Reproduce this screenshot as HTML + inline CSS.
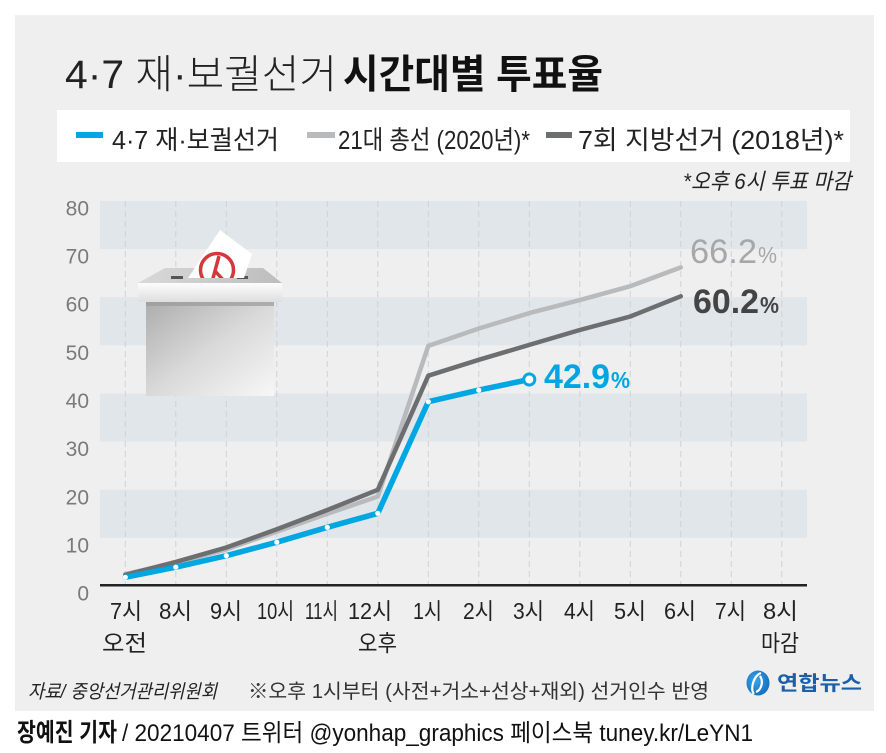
<!DOCTYPE html>
<html><head><meta charset="utf-8"><style>
html,body{margin:0;padding:0;background:#fff;}
svg{display:block;}
text{font-family:"Liberation Sans","Noto Sans CJK KR",sans-serif;}
</style></head><body>
<svg width="886" height="753" viewBox="0 0 886 753" xmlns="http://www.w3.org/2000/svg">
<defs>
<linearGradient id="body" x1="0" y1="0" x2="1" y2="1">
<stop offset="0" stop-color="#adadad"/><stop offset="0.5" stop-color="#d9d9d9"/><stop offset="1" stop-color="#f7f7f7"/>
</linearGradient>
<linearGradient id="lidtop" x1="0" y1="0" x2="1" y2="0">
<stop offset="0" stop-color="#d9d9d9"/><stop offset="1" stop-color="#bdbdbd"/>
</linearGradient>
<linearGradient id="lidfront" x1="0" y1="0" x2="0" y2="1">
<stop offset="0" stop-color="#fdfdfd"/><stop offset="1" stop-color="#dedede"/>
</linearGradient>
<radialGradient id="logo" cx="0.4" cy="0.4" r="0.7">
<stop offset="0" stop-color="#3aa6e8"/><stop offset="1" stop-color="#1268b8"/>
</radialGradient>
<clipPath id="paperclip"><rect x="150" y="200" width="130" height="78"/></clipPath>
</defs>
<rect x="0" y="0" width="886" height="753" fill="#fff"/>
<rect x="15" y="15" width="859" height="696" fill="#efefef"/>

<!-- title -->
<text x="65" y="88" font-size="40" font-weight="300" fill="#222" textLength="272" lengthAdjust="spacingAndGlyphs">4·7 재·보궐선거</text>
<text x="343" y="88" font-size="40" font-weight="700" fill="#111" textLength="260" lengthAdjust="spacingAndGlyphs">시간대별 투표율</text>

<!-- legend -->
<rect x="57" y="110" width="793" height="52" fill="#fff"/>
<rect x="76" y="132" width="27" height="6" fill="#00a7e2"/>
<text x="112" y="149" font-size="26" fill="#222" textLength="167" lengthAdjust="spacingAndGlyphs">4·7 재·보궐선거</text>
<rect x="307" y="132" width="28" height="6" fill="#b9babc"/>
<text x="338" y="149" font-size="26" fill="#222" textLength="192" lengthAdjust="spacingAndGlyphs">21대 총선 (2020년)*</text>
<rect x="546" y="132" width="26" height="6" fill="#6d6e70"/>
<text x="578" y="149" font-size="26" fill="#222" textLength="266" lengthAdjust="spacingAndGlyphs">7회 지방선거 (2018년)*</text>
<text x="683" y="189" font-size="22" font-style="italic" fill="#222" textLength="168" lengthAdjust="spacingAndGlyphs">*오후 6시 투표 마감</text>

<!-- bands -->
<rect x="100" y="201" width="707" height="48.1" fill="#e1e6ea"/>
<rect x="100" y="297.25" width="707" height="48.1" fill="#e1e6ea"/>
<rect x="100" y="393.5" width="707" height="48.1" fill="#e1e6ea"/>
<rect x="100" y="489.75" width="707" height="48.1" fill="#e1e6ea"/>

<!-- vertical dashed grid -->
<g stroke="#cfd3d7" stroke-width="1" stroke-dasharray="6 4">
<line x1="125.3" y1="201" x2="125.3" y2="585"/>
<line x1="175.8" y1="201" x2="175.8" y2="585"/>
<line x1="226.3" y1="201" x2="226.3" y2="585"/>
<line x1="276.8" y1="201" x2="276.8" y2="585"/>
<line x1="327.3" y1="201" x2="327.3" y2="585"/>
<line x1="377.8" y1="201" x2="377.8" y2="585"/>
<line x1="428.3" y1="201" x2="428.3" y2="585"/>
<line x1="478.8" y1="201" x2="478.8" y2="585"/>
<line x1="529.3" y1="201" x2="529.3" y2="585"/>
<line x1="579.8" y1="201" x2="579.8" y2="585"/>
<line x1="630.3" y1="201" x2="630.3" y2="585"/>
<line x1="680.8" y1="201" x2="680.8" y2="585"/>
<line x1="731.3" y1="201" x2="731.3" y2="585"/>
<line x1="781.8" y1="201" x2="781.8" y2="585"/>
</g>

<!-- y labels -->
<g font-size="21" fill="#7a7a7a" text-anchor="end">
<text x="89" y="215.5">80</text>
<text x="89" y="263.6">70</text>
<text x="89" y="311.7">60</text>
<text x="89" y="359.9">50</text>
<text x="89" y="408">40</text>
<text x="89" y="456.1">30</text>
<text x="89" y="504.3">20</text>
<text x="89" y="552.4">10</text>
<text x="89" y="600.5">0</text>
</g>

<!-- ballot box -->
<polygon points="165,268 263,268 282,283 138,283" fill="url(#lidtop)"/>
<rect x="171" y="276" width="12" height="3" fill="#555"/>
<rect x="237" y="276" width="11" height="3" fill="#555"/>
<g clip-path="url(#paperclip)">
<polygon points="220,230 252,254 240,290 180,290" fill="#fff"/>
<circle cx="217" cy="270" r="16.5" fill="none" stroke="#d2383c" stroke-width="3.5"/>
<path d="M219,256 L212,282 M215,271 L226,283" stroke="#d2383c" stroke-width="3.5" fill="none"/>
</g>
<rect x="138" y="283" width="144" height="19" fill="url(#lidfront)"/>
<rect x="146" y="302" width="128" height="94" fill="url(#body)"/>
<rect x="146" y="302" width="128" height="4" fill="#9a9a9a" opacity="0.7"/>

<!-- baseline -->
<rect x="100" y="584" width="707" height="2.5" fill="#222"/>

<!-- series -->
<polyline fill="none" stroke="#b9babc" stroke-width="4.5" stroke-linejoin="round" stroke-linecap="round"
 points="125.3,574 175.8,562.9 226.3,549.4 276.8,531.6 327.3,513.8 377.8,496.5 428.3,345.9 478.8,328.5 529.3,313.1 579.8,300.1 630.3,286.2 680.8,267.4"/>
<polyline fill="none" stroke="#6d6e70" stroke-width="4.5" stroke-linejoin="round" stroke-linecap="round"
 points="125.3,574.9 175.8,561.9 226.3,547.5 276.8,529.2 327.3,510 377.8,489.8 428.3,375.7 478.8,359.8 529.3,344.9 579.8,330 630.3,316.5 680.8,296.3"/>
<polyline fill="none" stroke="#00a7e2" stroke-width="5.5" stroke-linejoin="round" stroke-linecap="round"
 points="125.3,577.3 175.8,567.2 226.3,555.7 276.8,542.2 327.3,527.3 377.8,513.3 428.3,401.7 478.8,390.1 529.3,379.5"/>
<g fill="#fff">
<circle cx="125.3" cy="577.3" r="2.6"/>
<circle cx="175.8" cy="567.2" r="2.6"/>
<circle cx="226.3" cy="555.7" r="2.6"/>
<circle cx="276.8" cy="542.2" r="2.6"/>
<circle cx="327.3" cy="527.3" r="2.6"/>
<circle cx="377.8" cy="513.3" r="2.6"/>
<circle cx="428.3" cy="401.7" r="2.6"/>
<circle cx="478.8" cy="390.1" r="2.6"/>
</g>
<circle cx="529.3" cy="379.5" r="5.5" fill="#fff" stroke="#00a7e2" stroke-width="3"/>

<!-- value labels -->
<text x="690" y="263" font-size="34" fill="#a6a7a9" textLength="67" lengthAdjust="spacingAndGlyphs">66.2</text>
<text x="758" y="263" font-size="23" fill="#a6a7a9" textLength="19" lengthAdjust="spacingAndGlyphs">%</text>
<text x="693" y="313" font-size="34" font-weight="700" fill="#444" textLength="66" lengthAdjust="spacingAndGlyphs">60.2</text>
<text x="760" y="313" font-size="23" font-weight="700" fill="#444" textLength="19" lengthAdjust="spacingAndGlyphs">%</text>
<text x="544" y="388" font-size="34" font-weight="700" fill="#00a6e2" textLength="66" lengthAdjust="spacingAndGlyphs">42.9</text>
<text x="611" y="388" font-size="23" font-weight="700" fill="#00a6e2" textLength="19" lengthAdjust="spacingAndGlyphs">%</text>

<!-- x labels -->
<g font-size="23" fill="#222">
<text x="110" y="619" textLength="32" lengthAdjust="spacingAndGlyphs">7시</text>
<text x="159" y="619" textLength="33" lengthAdjust="spacingAndGlyphs">8시</text>
<text x="210" y="619" textLength="32" lengthAdjust="spacingAndGlyphs">9시</text>
<text x="257" y="619" textLength="37" lengthAdjust="spacingAndGlyphs">10시</text>
<text x="305" y="619" textLength="33" lengthAdjust="spacingAndGlyphs">11시</text>
<text x="348" y="619" textLength="44" lengthAdjust="spacingAndGlyphs">12시</text>
<text x="413" y="619" textLength="29" lengthAdjust="spacingAndGlyphs">1시</text>
<text x="463" y="619" textLength="31" lengthAdjust="spacingAndGlyphs">2시</text>
<text x="513" y="619" textLength="31" lengthAdjust="spacingAndGlyphs">3시</text>
<text x="564" y="619" textLength="31" lengthAdjust="spacingAndGlyphs">4시</text>
<text x="614" y="619" textLength="32" lengthAdjust="spacingAndGlyphs">5시</text>
<text x="664" y="619" textLength="32" lengthAdjust="spacingAndGlyphs">6시</text>
<text x="715" y="619" textLength="31" lengthAdjust="spacingAndGlyphs">7시</text>
<text x="763" y="619" textLength="35" lengthAdjust="spacingAndGlyphs">8시</text>
<text x="102" y="651" textLength="45" lengthAdjust="spacingAndGlyphs">오전</text>
<text x="358" y="651" textLength="39" lengthAdjust="spacingAndGlyphs">오후</text>
<text x="761" y="651" textLength="38" lengthAdjust="spacingAndGlyphs">마감</text>
</g>

<!-- source row -->
<text x="28" y="698" font-size="19" font-style="italic" fill="#222" textLength="189" lengthAdjust="spacingAndGlyphs">자료/ 중앙선거관리위원회</text>
<text x="248" y="698" font-size="20" fill="#333" textLength="461" lengthAdjust="spacingAndGlyphs">※오후 1시부터 (사전+거소+선상+재외) 선거인수 반영</text>

<!-- logo -->
<ellipse cx="758" cy="683" rx="11.5" ry="12.5" fill="url(#logo)"/>
<path d="M761,673 C753,676 750,690 754,694 M760,676 C764,682 761,690 756,692" stroke="#fff" stroke-width="2.2" fill="none"/>
<text x="777" y="690" font-size="20" font-weight="700" fill="#1b5ea9" textLength="85" lengthAdjust="spacingAndGlyphs">연합뉴스</text>

<!-- footer -->
<text x="17" y="741" font-size="25" font-weight="700" fill="#111" textLength="100" lengthAdjust="spacingAndGlyphs">장예진 기자</text>
<text x="122" y="741" font-size="24" fill="#111" textLength="631" lengthAdjust="spacingAndGlyphs">/ 20210407 트위터 @yonhap_graphics  페이스북 tuney.kr/LeYN1</text>
</svg>
</body></html>
